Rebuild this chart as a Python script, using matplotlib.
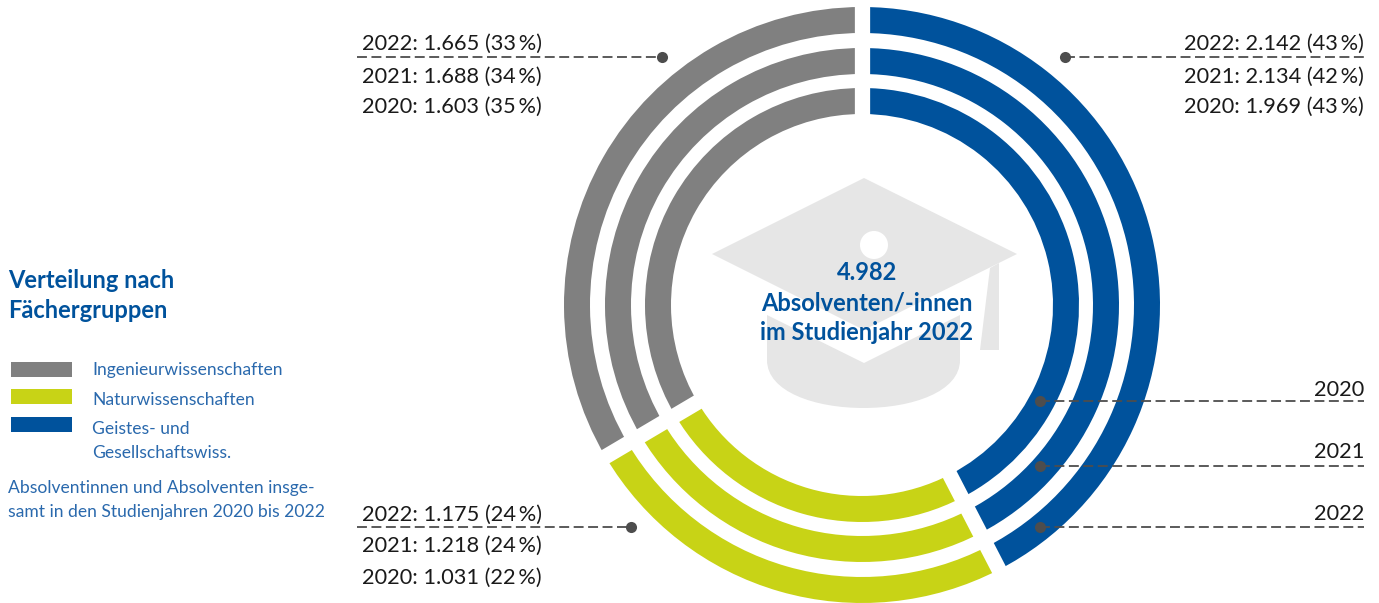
import numpy as np
import matplotlib
matplotlib.use("Agg")
import matplotlib.pyplot as plt
from matplotlib.patches import Polygon, Circle, PathPatch, Rectangle
from matplotlib.path import Path

years = [2022, 2021, 2020]
geistes = [2142, 2134, 1969]
geistes_pct = [43, 42, 43]
natur = [1175, 1218, 1031]
natur_pct = [24, 24, 22]
ingenieur = [1665, 1688, 1603]
ingenieur_pct = [33, 34, 35]
# ring sectors, same for all three rings
ring_shares = [42.4, 24.1, 33.5]
legend_labels = ["Ingenieurwissenschaften", "Naturwissenschaften", "Geistes- und\nGesellschaftswiss."]
center_lines = ["4.982", "Absolventen/-innen", "im Studienjahr 2022"]

BLUE = "#00529c"
GREEN = "#c8d316"
GRAY = "#808080"
DARK = "#4d4d4d"
TEXT = "#1a1a1a"
LEGEND_BLUE = "#2a69ad"
ICON = "#e6e6e6"

plt.rcParams['font.family'] = ['Lato', 'DejaVu Sans']

fig = plt.figure(figsize=(13.79, 6.03), dpi=100)
ax = fig.add_axes([0, 0, 1, 1])

cx, cy = 862, 305
radii = [298, 257, 217]
for r in radii:
    ax.pie(ring_shares, radius=r, center=(cx, cy), startangle=-90, counterclock=True,
           colors=[BLUE, GREEN, GRAY], wedgeprops=dict(width=26, linewidth=0), frame=True)

ax.set_xlim(0, 1379)
ax.set_ylim(603, 0)
ax.axis("off")

# white slits between the sectors
bounds = np.cumsum([0] + ring_shares[:-1]) / sum(ring_shares) * 2 * np.pi
for a in bounds:
    dx, dy = np.sin(a), -np.cos(a)
    ax.plot([cx + 170 * dx, cx + 320 * dx], [cy + 170 * dy, cy + 320 * dy],
            color="white", lw=11, solid_capstyle="butt", zorder=3)

# graduation cap
ax.add_patch(Polygon([(864, 178), (1017, 254), (864, 330), (712, 254)], color=ICON, lw=0, zorder=2))
ax.add_patch(Polygon([(990, 268), (999, 263), (999, 350), (980, 350)], color=ICON, lw=0, zorder=2))
ax.add_patch(Circle((874, 245), 14, color="white", lw=0, zorder=2.5))
base = Path([(767, 315), (864, 363), (960, 315), (960, 360), (960, 424), (767, 424), (767, 360), (767, 315)],
            [Path.MOVETO, Path.LINETO, Path.LINETO, Path.LINETO, Path.CURVE4, Path.CURVE4, Path.CURVE4, Path.CLOSEPOLY])
ax.add_patch(PathPatch(base, color=ICON, lw=0, zorder=2))

for i, line in enumerate(center_lines):
    ax.text(867, 273 + i * 30, line, color=BLUE, fontsize=17, fontweight="bold",
            ha="center", va="center", zorder=5)


def value_block(x, ha, ys, values, pcts):
    for y, yr, v, p in zip(ys, years, values, pcts):
        s = f"{yr}: {v // 1000}.{v % 1000:03d} ({p}\u2009%)"
        ax.text(x, y, s, color=TEXT, fontsize=15.7, ha=ha, va="center", zorder=5)


value_block(362, "left", [43.5, 76.5, 106.5], ingenieur, ingenieur_pct)
value_block(1364, "right", [43.5, 76.5, 106.5], geistes, geistes_pct)
value_block(362, "left", [514.5, 545.5, 577.5], natur, natur_pct)

# leader lines
leaders = [(357, 662, 57, 662), (1065, 1364, 57, 1065), (357, 631, 527, 631),
           (1040, 1364, 401, 1040), (1040, 1364, 466, 1040), (1040, 1364, 527, 1040)]
for x0, x1, y, xdot in leaders:
    ax.plot([x0, x1], [y, y], color=DARK, lw=1.3, dashes=(5.5, 2.5), zorder=4)
    ax.plot([xdot], [y], "o", color=DARK, ms=8, mew=0, zorder=4)

for y, yr in zip([514, 452, 390], years):
    ax.text(1364, y, str(yr), color=TEXT, fontsize=15.7, ha="right", va="center", zorder=5)

# legend side
ax.text(8, 281, "Verteilung nach", color=BLUE, fontsize=17, fontweight="bold", va="center")
ax.text(8, 311, "Fächergruppen", color=BLUE, fontsize=17, fontweight="bold", va="center")

for y, c in zip([362, 389, 417], [GRAY, GREEN, BLUE]):
    ax.add_patch(Rectangle((11, y), 61, 14.5, color=c, lw=0))

ax.text(92, 370, legend_labels[0], color=LEGEND_BLUE, fontsize=12.6, va="center")
ax.text(92, 400, legend_labels[1], color=LEGEND_BLUE, fontsize=12.6, va="center")
geistes_lbl = legend_labels[2].split("\n")
ax.text(92, 429, geistes_lbl[0], color=LEGEND_BLUE, fontsize=12.6, va="center")
ax.text(92, 453, geistes_lbl[1], color=LEGEND_BLUE, fontsize=12.6, va="center")
ax.text(8, 488, "Absolventinnen und Absolventen insge-", color=LEGEND_BLUE, fontsize=12.6, va="center")
ax.text(8, 512, "samt in den Studienjahren 2020 bis 2022", color=LEGEND_BLUE, fontsize=12.6, va="center")

fig.savefig("out.png", dpi=100)
